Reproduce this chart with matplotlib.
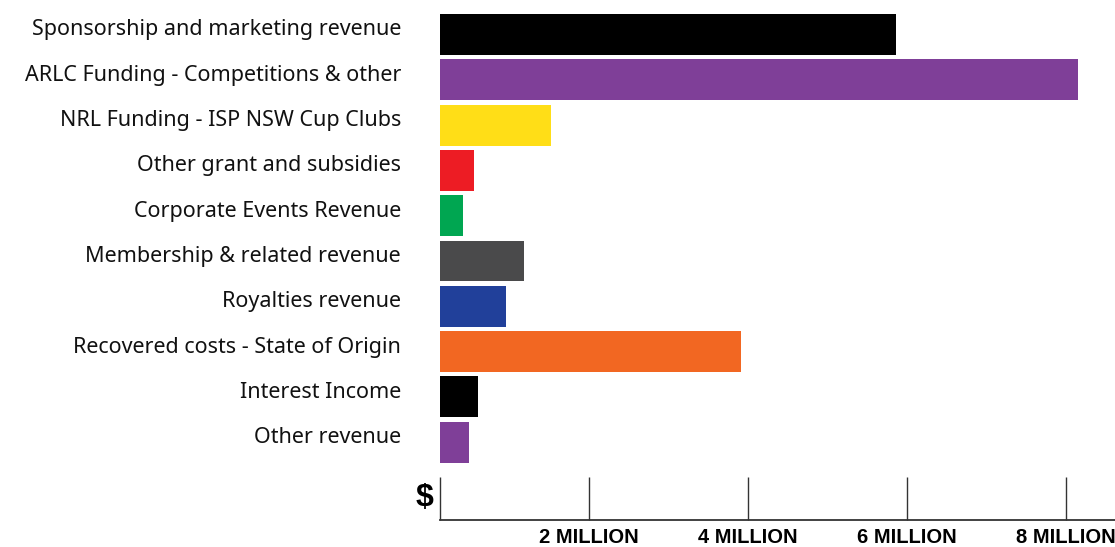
#!/usr/bin/env python3
"""Revenue breakdown as horizontal bars, infographic style."""

import matplotlib

matplotlib.use("Agg")
import matplotlib.pyplot as plt
import matplotlib.transforms as mtransforms

CATEGORIES = [
    "Sponsorship and marketing revenue",
    "ARLC Funding - Competitions & other",
    "NRL Funding - ISP NSW Cup Clubs",
    "Other grant and subsidies",
    "Corporate Events Revenue",
    "Membership & related revenue",
    "Royalties revenue",
    "Recovered costs - State of Origin",
    "Interest Income",
    "Other revenue",
]
# values in millions of dollars
VALUES = [5.86, 8.15, 1.52, 0.56, 0.42, 1.18, 0.96, 3.91, 0.60, 0.49]
COLORS = [
    "#000000", "#7f3f98", "#ffde17", "#ed1c24", "#00a651",
    "#4a4a4b", "#21409a", "#f26722", "#000000", "#7f3f98",
]
TICK_VALUES = [2, 4, 6, 8]
TICK_LABELS = ["2 MILLION", "4 MILLION", "6 MILLION", "8 MILLION"]

LABEL_FONT = ["Noto Sans", "DejaVu Sans"]
AXIS_FONT = ["Liberation Sans Narrow", "Liberation Sans", "DejaVu Sans"]

W, H, DPI = 1115, 547, 100
PX_PER_M = 79.45
X_LEFT = (440 - 430) / PX_PER_M
X_RIGHT = X_LEFT + (1115 - 440) / PX_PER_M

fig = plt.figure(figsize=(W / DPI, H / DPI), dpi=DPI)
ax = fig.add_axes([440 / W, 27 / H, 675 / W, 520 / H])

ypos = list(range(len(CATEGORIES)))
ax.barh(ypos, VALUES, height=0.905, color=COLORS, left=0, zorder=2)

ax.set_xlim(X_LEFT, X_RIGHT)
ax.set_ylim(9 + 77.8 / 45.3, -34.5 / 45.3)

for side in ("top", "right", "left"):
    ax.spines[side].set_visible(False)
ax.spines["bottom"].set_color("#333333")
ax.spines["bottom"].set_linewidth(1.3)

ax.set_xticks([X_LEFT] + TICK_VALUES)
ax.set_xticklabels([""] + TICK_LABELS, fontfamily=AXIS_FONT,
                   fontweight="bold", fontsize=14.5)
ax.tick_params(axis="x", direction="in", length=31, width=1.0,
               color="#333333", pad=6)

ax.set_yticks(ypos)
ax.set_yticklabels(CATEGORIES, fontfamily=LABEL_FONT, fontsize=15.5,
                   color="#111111")
ax.tick_params(axis="y", length=0, pad=28)
shift = mtransforms.ScaledTranslation(0, 7 / DPI, fig.dpi_scale_trans)
for lbl in ax.get_yticklabels():
    lbl.set_transform(lbl.get_transform() + shift)

fig.text(425 / W, 1 - 498 / H, "$", ha="center", va="center",
         fontfamily=AXIS_FONT, fontweight="bold", fontsize=23)

fig.savefig("out.png", dpi=DPI)
